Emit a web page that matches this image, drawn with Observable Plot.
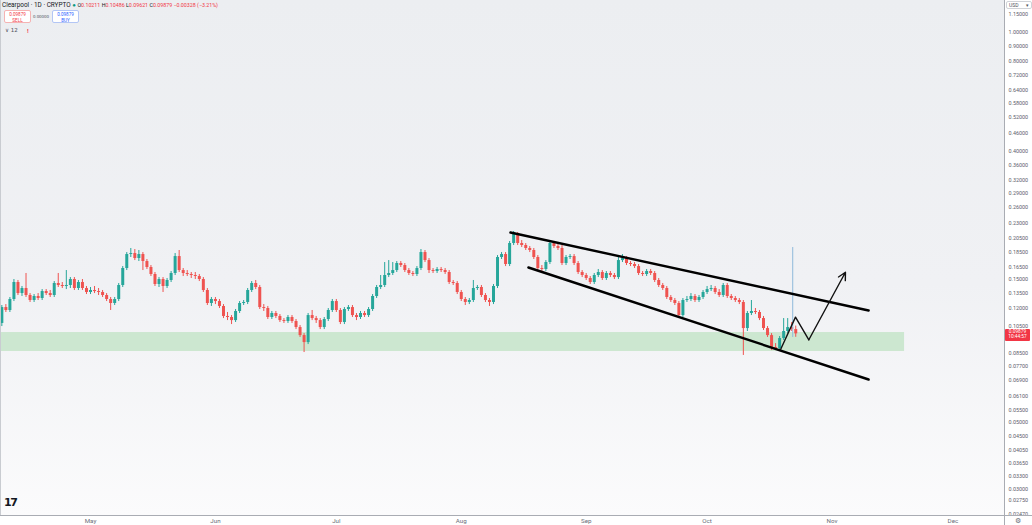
<!DOCTYPE html>
<html><head><meta charset="utf-8">
<script src="https://cdn.jsdelivr.net/npm/d3@7"></script>
<script src="https://cdn.jsdelivr.net/npm/@observablehq/plot@0.6"></script>
<style>
body{margin:0;background:#fff;font-family:Roboto,"Liberation Sans",sans-serif;}
#wrap{position:relative;width:1032px;height:525px;overflow:hidden;background:#fff;}
#bg{position:absolute;left:0;top:0;width:1004px;height:515px;background:linear-gradient(to bottom,#eceef1 0%,#f0f1f4 55%,#fbfbfc 100%);}
#chart{position:absolute;left:0;top:0;}
.ln{position:absolute;background:#a9acb3;}
.hd{position:absolute;white-space:nowrap;color:#131722;}
.box{position:absolute;background:#fff;border-radius:2px;text-align:center;font-size:4.6px;line-height:5.6px;padding-top:1px;box-sizing:border-box;}
</style></head>
<body>
<div id="wrap">
  <div id="bg"></div>
  <div id="chart"></div>
  <div class="ln" style="left:0;top:0;width:1px;height:515px;background:#c9ccd1"></div>
  <div class="ln" style="left:1004px;top:0;width:1px;height:525px;"></div>
  <div class="ln" style="left:0;top:515px;width:1032px;height:1px;"></div>
  <div class="hd" style="left:2px;top:1px;font-size:6.4px;">Clearpool · 1D · CRYPTO <span style="color:#089981;font-size:6px">●</span> <span id="ohlc" style="font-size:5.3px"></span></div>
  <div class="box" style="left:4px;top:10px;width:27px;height:13px;border:1px solid #f5b3b3;color:#f23645;">0.09879<br>SELL</div>
  <div class="hd" style="left:33px;top:14px;font-size:4.4px;color:#50535e">0.00000</div>
  <div class="box" style="left:52px;top:10px;width:27px;height:13px;border:1px solid #b3c6f5;color:#2962ff;">0.09879<br>BUY</div>
  <div class="hd" style="left:5px;top:27px;font-size:5.5px;color:#50535e;font-family:'DejaVu Sans',sans-serif">∨ 12</div>
  <div class="hd" style="left:27px;top:27px;font-size:6px;color:#f23645;font-weight:bold">!</div>
  <div class="hd" style="left:1006px;top:1px;font-size:5px;color:#50535e;border:1px solid #d0d3d8;border-radius:2px;padding:0 2px;background:#fff">USD <span style="margin-left:6px">▾</span></div>
  <div class="hd" style="left:4px;top:496px;font-size:11px;font-weight:900;font-family:'DejaVu Sans',sans-serif;letter-spacing:-1.5px;">17</div>
  <div class="hd" style="left:1015px;top:517px;font-size:7px;line-height:8px;color:#6a6d78;font-family:'DejaVu Sans',sans-serif">⚙</div>
  <div id="plabel" class="hd" style="left:1005px;width:25px;height:12px;background:#f23645;color:#fff;font-size:4.8px;line-height:5.6px;text-align:center;border-radius:1px;"></div>
</div>
<script>
// ---- data ----
const firstDay = "2024-04-09";
const lastDay = "2024-10-23";
const firstOpen = 0.1070;
const closes = [
.1209,.1182,.1286,.1465,.1346,.1399,.1326,.1276,.1316,.1296,
.1367,.1346,.1326,.1454,.1432,.1421,.1432,.1499,.1399,.1465,
.1399,.1357,.1378,.1367,.1357,.1326,.1286,.1247,.1286,.1432,
.1631,.1816,.1830,.1761,.1816,.1721,.1644,.1558,.1443,.1499,
.1421,.1488,.1570,.1788,.1606,.1570,.1558,.1546,.1534,.1499,
.1378,.1247,.1286,.1266,.1219,.1129,.1120,.1094,.1173,.1247,
.1257,.1378,.1454,.1410,.1209,.1200,.1120,.1155,.1129,.1094,
.1086,.1120,.1086,.1037,.0975,.0924,.1137,.1111,.1094,.1037,
.1103,.1182,.1266,.1182,.1078,.1191,.1209,.1137,.1120,.1155,
.1137,.1191,.1316,.1410,.1432,.1546,.1570,.1606,.1695,.1669,
.1606,.1570,.1558,.1631,.1844,.1734,.1606,.1594,.1619,.1606,
.1582,.1465,.1454,.1357,.1286,.1257,.1276,.1399,.1410,.1326,
.1276,.1257,.1421,.1775,.1816,.1682,.1976,.2134,.1976,.1946,
.1902,.1873,.1775,.1631,.1619,.1708,.1976,.1931,.1902,.1695,
.1775,.1788,.1695,.1582,.1546,.1511,.1465,.1546,.1582,.1511,
.1570,.1546,.1522,.1734,.1761,.1695,.1682,.1656,.1570,.1558,
.1594,.1570,.1488,.1432,.1399,.1306,.1276,.1247,.1137,.1276,
.1286,.1316,.1276,.1306,.1357,.1388,.1399,.1357,.1326,.1432,
.1316,.1296,.1276,.1257,.1029,.1155,.1173,.1164,.1111,.1029,
.0975,.0890,.0883,.0953,.1006,.1037,.10211,.09879];
const highs = [
.1228,.1237,.1306,.1499,.1488,.1421,.1570,.1346,.1336,.1346,
.1388,.1388,.1378,.1476,.1570,.1465,.1606,.1522,.1522,.1488,
.1499,.1421,.1410,.1421,.1399,.1378,.1346,.1306,.1306,.1454,
.1656,.1844,.1902,.1887,.1873,.1844,.1748,.1669,.1582,.1522,
.1522,.1511,.1594,.1830,.1873,.1631,.1606,.1582,.1582,.1558,
.1522,.1399,.1306,.1306,.1286,.1237,.1164,.1137,.1191,.1266,
.1276,.1399,.1476,.1488,.1432,.1237,.1219,.1173,.1173,.1146,
.1111,.1137,.1137,.1103,.1053,.0990,.1155,.1182,.1129,.1111,
.1120,.1200,.1286,.1286,.1200,.1209,.1228,.1228,.1155,.1173,
.1173,.1209,.1336,.1432,.1546,.1708,.1734,.1708,.1721,.1721,
.1695,.1631,.1594,.1656,.1887,.1873,.1761,.1631,.1644,.1644,
.1631,.1606,.1488,.1476,.1378,.1306,.1296,.1488,.1432,.1432,
.1346,.1296,.1443,.1802,.1844,.1844,.2007,.2167,.2150,.2022,
.1976,.1931,.1902,.1802,.1669,.1734,.2007,.2007,.1961,.1946,
.1802,.1816,.1816,.1721,.1606,.1570,.1534,.1570,.1619,.1606,
.1594,.1594,.1570,.1775,.1816,.1788,.1721,.1708,.1682,.1594,
.1619,.1619,.1594,.1511,.1454,.1421,.1326,.1296,.1266,.1296,
.1316,.1346,.1336,.1326,.1378,.1421,.1432,.1421,.1388,.1454,
.1454,.1336,.1316,.1296,.1276,.1173,.1276,.1200,.1182,.1129,
.1045,.0990,.0917,.0968,.1111,.1111,.1078,.10486];
const lows = [
.1045,.1164,.1164,.1266,.1326,.1316,.1306,.1257,.1257,.1276,
.1276,.1326,.1306,.1306,.1410,.1399,.1388,.1399,.1378,.1378,
.1378,.1336,.1336,.1346,.1326,.1306,.1266,.1182,.1228,.1266,
.1410,.1606,.1775,.1734,.1721,.1606,.1619,.1534,.1421,.1410,
.1357,.1399,.1465,.1546,.1582,.1534,.1534,.1511,.1499,.1476,
.1357,.1228,.1219,.1237,.1200,.1111,.1094,.1061,.1078,.1155,
.1228,.1237,.1357,.1388,.1191,.1173,.1103,.1103,.1111,.1078,
.1070,.1070,.1070,.1021,.0961,.0856,.0910,.1094,.1070,.1021,
.1021,.1086,.1164,.1164,.1061,.1061,.1173,.1120,.1094,.1103,
.1120,.1120,.1173,.1296,.1388,.1410,.1522,.1546,.1582,.1644,
.1582,.1546,.1534,.1534,.1606,.1708,.1570,.1570,.1570,.1582,
.1558,.1443,.1432,.1336,.1266,.1228,.1237,.1257,.1378,.1306,
.1257,.1219,.1237,.1399,.1748,.1656,.1656,.1946,.1946,.1916,
.1873,.1844,.1748,.1606,.1594,.1594,.1682,.1902,.1873,.1669,
.1669,.1748,.1669,.1558,.1522,.1488,.1443,.1443,.1522,.1488,
.1488,.1522,.1499,.1499,.1708,.1669,.1656,.1631,.1546,.1534,
.1534,.1546,.1465,.1410,.1378,.1286,.1257,.1228,.1120,.1120,
.1257,.1266,.1257,.1257,.1286,.1336,.1367,.1336,.1306,.1306,
.1296,.1276,.1257,.1237,.0837,.1006,.1137,.1146,.1094,.1014,
.0961,.0869,.0869,.0869,.0939,.0990,.1006,.09621];

// price-scale labels (0.095 sits under the live price tag)
const priceTicks = [1.15,1.0,0.9,0.8,0.72,0.64,0.58,0.52,0.46,0.40,0.36,0.32,0.29,0.26,0.23,0.205,0.185,0.165,0.15,0.135,0.12,0.105,0.085,0.077,0.069,0.061,0.055,0.05,0.045,0.0405,0.0365,0.033,0.03,0.0275,0.0247];
const monthTicks = ["2024-05-01","2024-06-01","2024-07-01","2024-08-01","2024-09-01","2024-10-01","2024-11-01","2024-12-01"];

// demand zone
const zoneStart = "2024-04-08T16:00Z", zoneEnd = "2024-11-19T00:00Z";
const zoneLow = 0.0863, zoneHigh = 0.0998;
// falling channel
const upperLine = [{d:"2024-08-13T05:00Z", p:0.2150},{d:"2024-11-10T02:00Z", p:0.1182}];
const lowerLine = [{d:"2024-08-17T16:00Z", p:0.1644},{d:"2024-11-10T02:00Z", p:0.0696}];
// projected path
const pathPts = [{d:"2024-10-19T05:00Z", p:0.0874},{d:"2024-10-22T22:30Z", p:0.1123},{d:"2024-10-26T06:00Z", p:0.0944}];
const pathEnd = {d:"2024-11-04T08:00Z", p:0.1585};
// vertical marker
const vMarker = {d:"2024-10-22T06:00Z", p1:0.0961, p2:0.1916};
const header = {O:"0.10211", H:"0.10486", L:"0.09621", C:"0.09879", chg:"−0.00328 (−3.21%)"};
const lastPrice = 0.09879, countdown = "10:44:57";

// ---- build ----
const days = d3.utcDay.range(new Date(firstDay+"T00:00Z"), d3.utcDay.offset(new Date(lastDay+"T00:00Z"), 1));
const UP = "#26a69a", DN = "#ef5350";
const candles = days.map((date, i) => {
  const open = i === 0 ? firstOpen : closes[i-1];
  const close = closes[i];
  return {date, open, close, high: highs[i], low: lows[i], col: close >= open ? UP : DN};
});
const P = r => ({d: new Date(r.d), p: r.p});

const chart = Plot.plot({
  width: 1032, height: 525,
  marginLeft: 0, marginRight: 28, marginTop: 0, marginBottom: 10,
  style: {background: "transparent", fontFamily: "Roboto, sans-serif", overflow: "visible"},
  x: {type: "utc", domain: [new Date("2024-04-08T16:00Z"), new Date("2024-12-13T19:12Z")]},
  y: {type: "log", domain: [0.02451, 1.2757], axis: null},
  color: {type: "identity"},
  marks: [
    Plot.rect([{x1: new Date(zoneStart), x2: new Date(zoneEnd), y1: zoneLow, y2: zoneHigh}],
      {x1: "x1", x2: "x2", y1: "y1", y2: "y2", fill: "#cce7d0"}),
    Plot.ruleX(candles, {x: "date", y1: "low", y2: "high", stroke: "col", strokeWidth: 1}),
    Plot.ruleX(candles, {x: "date", y1: "open", y2: "close", stroke: "col", strokeWidth: 3}),
    Plot.ruleX([vMarker], {x: d => new Date(d.d), y1: "p1", y2: "p2", stroke: "#8fb9da", strokeWidth: 1}),
    Plot.line(upperLine.map(P), {x: "d", y: "p", stroke: "#000", strokeWidth: 2.4}),
    Plot.line(lowerLine.map(P), {x: "d", y: "p", stroke: "#000", strokeWidth: 2.4}),
    Plot.line(pathPts.map(P), {x: "d", y: "p", stroke: "#111", strokeWidth: 1.4}),
    Plot.arrow([{a: pathPts[2], b: pathEnd}], {x1: d => new Date(d.a.d), y1: d => d.a.p, x2: d => new Date(d.b.d), y2: d => d.b.p,
      stroke: "#111", strokeWidth: 1.4, headLength: 9, headAngle: 55}),
    Plot.text(priceTicks, {y: d => d, text: d => d.toFixed(5), frameAnchor: "right", textAnchor: "start", dx: 4, fontSize: 5.4, fill: "#5d606b"}),
    Plot.axisX({anchor: "bottom", ticks: monthTicks.map(s => new Date(s+"T00:00Z")), tickFormat: d3.utcFormat("%b"), tickSize: 0, tickPadding: 3, fontSize: 6.2, color: "#6a6d78"})
  ]
});
document.getElementById("chart").append(chart);

document.getElementById("ohlc").innerHTML =
  ["O","H","L","C"].map(k => `${k}<span style="color:#f23645">${header[k]}</span>`).join(" ") +
  ` <span style="color:#f23645">${header.chg}</span>`;

const py = chart.scale("y").apply(lastPrice);
const lab = document.getElementById("plabel");
lab.style.top = (py - 4.5) + "px";
lab.innerHTML = lastPrice.toFixed(5) + "<br>" + countdown;
</script>
</body></html>
